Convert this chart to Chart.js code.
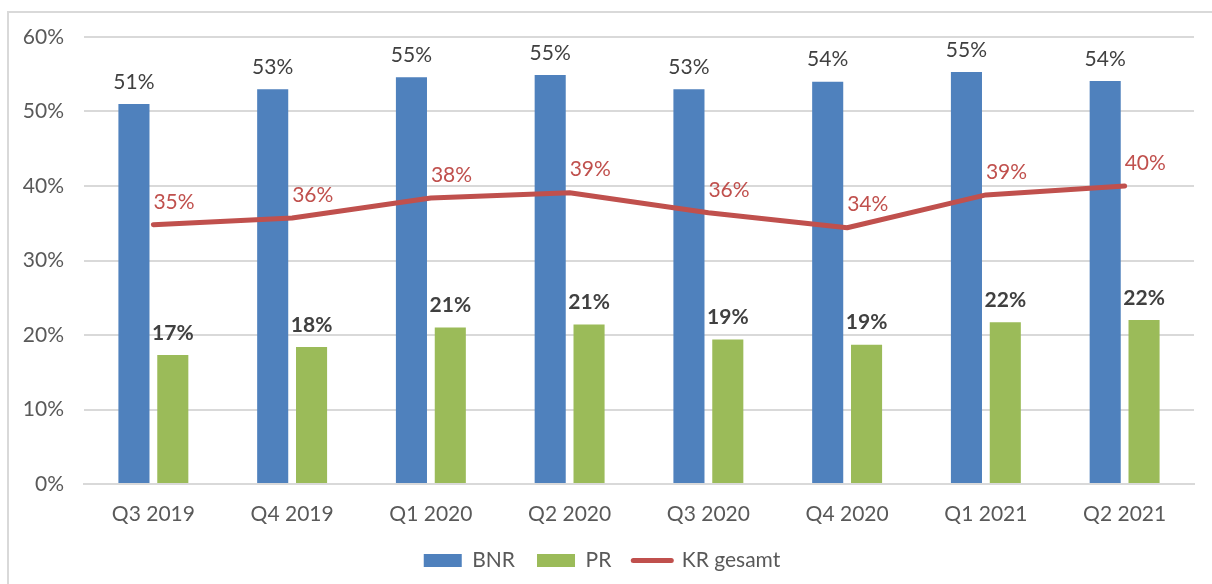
<!DOCTYPE html>
<html>
<head>
<meta charset="utf-8">
<script src="https://cdn.jsdelivr.net/npm/chart.js@4"></script>
<style>
  html, body { margin: 0; padding: 0; background: #fff; }
  #wrap { position: relative; width: 1212px; height: 584px; }
  #frame { position: absolute; left: 7px; top: 11px; right: -4px; bottom: -4px; border: 2px solid #d9d9d9; }
  canvas { position: absolute; left: 0; top: 0; }
</style>
</head>
<body>
<div id="wrap">
  <div id="frame"></div>
  <canvas id="chart" width="1212" height="584"></canvas>
</div>
<script>
// quarters on the x axis
const quarters = ['Q3 2019', 'Q4 2019', 'Q1 2020', 'Q2 2020', 'Q3 2020', 'Q4 2020', 'Q1 2021', 'Q2 2021'];
// values in percent
const bnr = [51.0, 53.0, 54.6, 54.9, 53.0, 54.0, 55.3, 54.1];
const pr = [17.3, 18.4, 21.0, 21.4, 19.4, 18.7, 21.7, 22.0];
const krGesamt = [34.8, 35.7, 38.4, 39.1, 36.4, 34.4, 38.8, 40.0];
const yTicks = [0, 10, 20, 30, 40, 50, 60];

const fontFamily = 'Lato, "Open Sans", sans-serif';
const fontSize = 21;

// draws the value labels above bars and next to line points
const valueLabels = {
    id: 'valueLabels',
    afterDatasetsDraw(chart) {
        const ctx = chart.ctx;
        chart.data.datasets.forEach((ds, i) => {
            const meta = chart.getDatasetMeta(i);
            meta.data.forEach((el, j) => {
                const txt = Math.round(ds.data[j]) + '%';
                ctx.save();
                if (ds.type === 'line') {
                    ctx.font = fontSize + 'px ' + fontFamily;
                    ctx.fillStyle = '#c0504d';
                    ctx.textAlign = 'left';
                    ctx.textBaseline = 'middle';
                    ctx.fillText(txt, el.x, el.y - 23);
                } else {
                    ctx.font = (i === 1 ? 'bold ' : '') + fontSize + 'px ' + fontFamily;
                    ctx.fillStyle = '#404040';
                    ctx.textAlign = 'center';
                    ctx.textBaseline = 'middle';
                    ctx.fillText(txt, el.x, el.y - 22);
                }
                ctx.restore();
            });
        });
    }
};

const ctx = document.getElementById('chart').getContext('2d');
new Chart(ctx, {
    data: {
        labels: quarters,
        datasets: [
            {
                type: 'bar',
                label: 'BNR',
                data: bnr,
                backgroundColor: '#4f81bd',
                categoryPercentage: 0.56,
                barPercentage: 0.8,
                order: 1
            },
            {
                type: 'bar',
                label: 'PR',
                data: pr,
                backgroundColor: '#9bbb59',
                categoryPercentage: 0.56,
                barPercentage: 0.8,
                order: 1
            },
            {
                type: 'line',
                label: 'KR gesamt',
                data: krGesamt,
                borderColor: '#c0504d',
                backgroundColor: '#c0504d',
                borderWidth: 5,
                borderCapStyle: 'round',
                borderJoinStyle: 'round',
                pointRadius: 0,
                pointStyle: 'line',
                tension: 0,
                order: 0
            }
        ]
    },
    options: {
        responsive: false,
        animation: false,
        layout: { padding: { left: 10, right: 18, top: 37, bottom: 3 } },
        plugins: {
            tooltip: { enabled: false },
            legend: {
                position: 'bottom',
                labels: {
                    sort: (a, b) => a.datasetIndex - b.datasetIndex,
                    usePointStyle: true,
                    pointStyleWidth: 38,
                    boxHeight: 13,
                    padding: 22,
                    color: '#595959',
                    font: { family: fontFamily, size: fontSize },
                    generateLabels(chart) {
                        const items = Chart.defaults.plugins.legend.labels.generateLabels(chart);
                        items.forEach(it => {
                            if (it.datasetIndex === 2) {
                                it.pointStyle = 'line';
                                it.lineWidth = 5;
                                it.strokeStyle = '#c0504d';
                                it.lineCap = 'round';
                            } else {
                                it.pointStyle = 'rect';
                                it.lineWidth = 0;
                            }
                        });
                        return items;
                    }
                }
            }
        },
        scales: {
            x: {
                afterFit(scale) { scale.height = 44; },
                grid: { display: false, drawTicks: false },
                border: { color: '#d9d9d9', width: 2 },
                ticks: { color: '#595959', padding: 18, font: { family: fontFamily, size: fontSize } }
            },
            y: {
                min: 0,
                max: 60,
                afterBuildTicks(scale) {
                    scale.ticks = yTicks.map(v => ({ value: v }));
                },
                afterFit(scale) { scale.width = 74; },
                grid: { color: '#d9d9d9', lineWidth: 2, drawTicks: false },
                border: { display: false },
                ticks: {
                    color: '#595959',
                    padding: 20,
                    font: { family: fontFamily, size: fontSize },
                    callback: v => v + '%'
                }
            }
        }
    },
    plugins: [valueLabels]
});
</script>
</body>
</html>
